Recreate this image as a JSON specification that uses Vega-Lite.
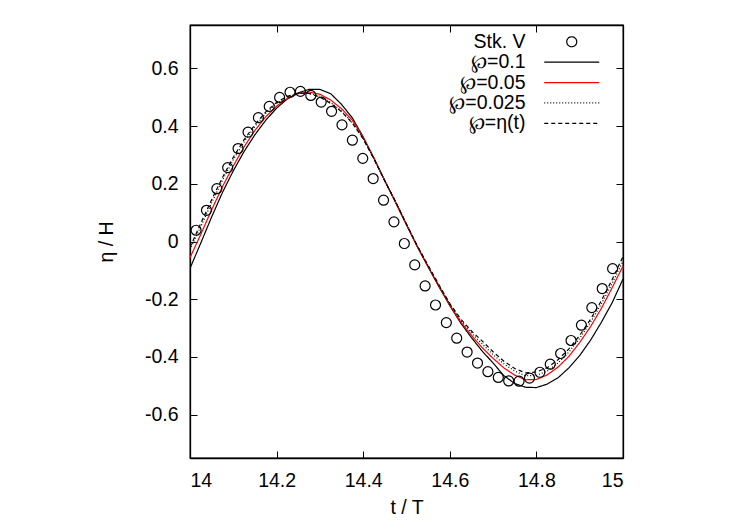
{
  "$schema": "https://vega.github.io/schema/vega-lite/v6.json",
  "width": 433,
  "height": 433,
  "autosize": {"type": "none"},
  "padding": {"left": 190, "top": 25, "right": 127, "bottom": 67},
  "background": "white",
  "config": {
    "font": "Liberation Sans",
    "view": {"stroke": "black", "strokeWidth": 1.3},
    "axis": {
      "grid": false,
      "domainColor": "black",
      "domainWidth": 1.3,
      "tickColor": "black",
      "tickWidth": 1,
      "tickSize": -7,
      "labelFont": "Liberation Sans",
      "labelFontSize": 19.5,
      "labelColor": "black",
      "titleFont": "Liberation Sans",
      "titleFontSize": 19.5,
      "titleFontWeight": "normal",
      "titleColor": "black"
    }
  },
  "datasets": {
    "obs": [
      {"series": "Stk. V", "t": 14.014, "eta": 0.039},
      {"series": "Stk. V", "t": 14.038, "eta": 0.108},
      {"series": "Stk. V", "t": 14.062, "eta": 0.183},
      {"series": "Stk. V", "t": 14.087, "eta": 0.256},
      {"series": "Stk. V", "t": 14.111, "eta": 0.322},
      {"series": "Stk. V", "t": 14.134, "eta": 0.379},
      {"series": "Stk. V", "t": 14.158, "eta": 0.429},
      {"series": "Stk. V", "t": 14.183, "eta": 0.468},
      {"series": "Stk. V", "t": 14.207, "eta": 0.499},
      {"series": "Stk. V", "t": 14.231, "eta": 0.517},
      {"series": "Stk. V", "t": 14.255, "eta": 0.520},
      {"series": "Stk. V", "t": 14.279, "eta": 0.506},
      {"series": "Stk. V", "t": 14.303, "eta": 0.483},
      {"series": "Stk. V", "t": 14.327, "eta": 0.451},
      {"series": "Stk. V", "t": 14.351, "eta": 0.404},
      {"series": "Stk. V", "t": 14.375, "eta": 0.351},
      {"series": "Stk. V", "t": 14.399, "eta": 0.288},
      {"series": "Stk. V", "t": 14.423, "eta": 0.218},
      {"series": "Stk. V", "t": 14.447, "eta": 0.143},
      {"series": "Stk. V", "t": 14.471, "eta": 0.068},
      {"series": "Stk. V", "t": 14.495, "eta": -0.007},
      {"series": "Stk. V", "t": 14.519, "eta": -0.081},
      {"series": "Stk. V", "t": 14.543, "eta": -0.154},
      {"series": "Stk. V", "t": 14.567, "eta": -0.220},
      {"series": "Stk. V", "t": 14.592, "eta": -0.281},
      {"series": "Stk. V", "t": 14.616, "eta": -0.335},
      {"series": "Stk. V", "t": 14.640, "eta": -0.383},
      {"series": "Stk. V", "t": 14.664, "eta": -0.421},
      {"series": "Stk. V", "t": 14.688, "eta": -0.451},
      {"series": "Stk. V", "t": 14.712, "eta": -0.471},
      {"series": "Stk. V", "t": 14.736, "eta": -0.483},
      {"series": "Stk. V", "t": 14.760, "eta": -0.484},
      {"series": "Stk. V", "t": 14.784, "eta": -0.473},
      {"series": "Stk. V", "t": 14.808, "eta": -0.453},
      {"series": "Stk. V", "t": 14.832, "eta": -0.425},
      {"series": "Stk. V", "t": 14.856, "eta": -0.388},
      {"series": "Stk. V", "t": 14.880, "eta": -0.343},
      {"series": "Stk. V", "t": 14.904, "eta": -0.290},
      {"series": "Stk. V", "t": 14.928, "eta": -0.229},
      {"series": "Stk. V", "t": 14.952, "eta": -0.163},
      {"series": "Stk. V", "t": 14.976, "eta": -0.094}
    ],
    "sim": [
      {"series": "℘=0.1", "t": 14.000, "eta": -0.093},
      {"series": "℘=0.1", "t": 14.025, "eta": -0.005},
      {"series": "℘=0.1", "t": 14.050, "eta": 0.085},
      {"series": "℘=0.1", "t": 14.075, "eta": 0.170},
      {"series": "℘=0.1", "t": 14.100, "eta": 0.245},
      {"series": "℘=0.1", "t": 14.125, "eta": 0.312},
      {"series": "℘=0.1", "t": 14.150, "eta": 0.370},
      {"series": "℘=0.1", "t": 14.175, "eta": 0.420},
      {"series": "℘=0.1", "t": 14.200, "eta": 0.462},
      {"series": "℘=0.1", "t": 14.225, "eta": 0.494},
      {"series": "℘=0.1", "t": 14.250, "eta": 0.515},
      {"series": "℘=0.1", "t": 14.275, "eta": 0.527},
      {"series": "℘=0.1", "t": 14.300, "eta": 0.527},
      {"series": "℘=0.1", "t": 14.325, "eta": 0.512},
      {"series": "℘=0.1", "t": 14.350, "eta": 0.475},
      {"series": "℘=0.1", "t": 14.375, "eta": 0.428},
      {"series": "℘=0.1", "t": 14.400, "eta": 0.362},
      {"series": "℘=0.1", "t": 14.425, "eta": 0.288},
      {"series": "℘=0.1", "t": 14.450, "eta": 0.210},
      {"series": "℘=0.1", "t": 14.475, "eta": 0.135},
      {"series": "℘=0.1", "t": 14.500, "eta": 0.058},
      {"series": "℘=0.1", "t": 14.525, "eta": -0.018},
      {"series": "℘=0.1", "t": 14.550, "eta": -0.088},
      {"series": "℘=0.1", "t": 14.575, "eta": -0.157},
      {"series": "℘=0.1", "t": 14.600, "eta": -0.222},
      {"series": "℘=0.1", "t": 14.625, "eta": -0.282},
      {"series": "℘=0.1", "t": 14.650, "eta": -0.333},
      {"series": "℘=0.1", "t": 14.675, "eta": -0.380},
      {"series": "℘=0.1", "t": 14.700, "eta": -0.421},
      {"series": "℘=0.1", "t": 14.725, "eta": -0.465},
      {"series": "℘=0.1", "t": 14.750, "eta": -0.492},
      {"series": "℘=0.1", "t": 14.775, "eta": -0.505},
      {"series": "℘=0.1", "t": 14.800, "eta": -0.506},
      {"series": "℘=0.1", "t": 14.825, "eta": -0.494},
      {"series": "℘=0.1", "t": 14.850, "eta": -0.472},
      {"series": "℘=0.1", "t": 14.875, "eta": -0.438},
      {"series": "℘=0.1", "t": 14.900, "eta": -0.395},
      {"series": "℘=0.1", "t": 14.925, "eta": -0.342},
      {"series": "℘=0.1", "t": 14.950, "eta": -0.280},
      {"series": "℘=0.1", "t": 14.975, "eta": -0.212},
      {"series": "℘=0.1", "t": 15.000, "eta": -0.130},

      {"series": "℘=0.05", "t": 14.000, "eta": -0.056},
      {"series": "℘=0.05", "t": 14.025, "eta": 0.025},
      {"series": "℘=0.05", "t": 14.050, "eta": 0.110},
      {"series": "℘=0.05", "t": 14.075, "eta": 0.190},
      {"series": "℘=0.05", "t": 14.100, "eta": 0.262},
      {"series": "℘=0.05", "t": 14.125, "eta": 0.328},
      {"series": "℘=0.05", "t": 14.150, "eta": 0.385},
      {"series": "℘=0.05", "t": 14.175, "eta": 0.432},
      {"series": "℘=0.05", "t": 14.200, "eta": 0.469},
      {"series": "℘=0.05", "t": 14.225, "eta": 0.496},
      {"series": "℘=0.05", "t": 14.250, "eta": 0.512},
      {"series": "℘=0.05", "t": 14.275, "eta": 0.518},
      {"series": "℘=0.05", "t": 14.300, "eta": 0.510},
      {"series": "℘=0.05", "t": 14.325, "eta": 0.490},
      {"series": "℘=0.05", "t": 14.350, "eta": 0.460},
      {"series": "℘=0.05", "t": 14.375, "eta": 0.420},
      {"series": "℘=0.05", "t": 14.400, "eta": 0.360},
      {"series": "℘=0.05", "t": 14.425, "eta": 0.288},
      {"series": "℘=0.05", "t": 14.450, "eta": 0.210},
      {"series": "℘=0.05", "t": 14.475, "eta": 0.135},
      {"series": "℘=0.05", "t": 14.500, "eta": 0.058},
      {"series": "℘=0.05", "t": 14.525, "eta": -0.018},
      {"series": "℘=0.05", "t": 14.550, "eta": -0.088},
      {"series": "℘=0.05", "t": 14.575, "eta": -0.155},
      {"series": "℘=0.05", "t": 14.600, "eta": -0.220},
      {"series": "℘=0.05", "t": 14.625, "eta": -0.278},
      {"series": "℘=0.05", "t": 14.650, "eta": -0.325},
      {"series": "℘=0.05", "t": 14.675, "eta": -0.368},
      {"series": "℘=0.05", "t": 14.700, "eta": -0.405},
      {"series": "℘=0.05", "t": 14.725, "eta": -0.438},
      {"series": "℘=0.05", "t": 14.750, "eta": -0.463},
      {"series": "℘=0.05", "t": 14.775, "eta": -0.479},
      {"series": "℘=0.05", "t": 14.800, "eta": -0.478},
      {"series": "℘=0.05", "t": 14.825, "eta": -0.462},
      {"series": "℘=0.05", "t": 14.850, "eta": -0.435},
      {"series": "℘=0.05", "t": 14.875, "eta": -0.398},
      {"series": "℘=0.05", "t": 14.900, "eta": -0.350},
      {"series": "℘=0.05", "t": 14.925, "eta": -0.295},
      {"series": "℘=0.05", "t": 14.950, "eta": -0.232},
      {"series": "℘=0.05", "t": 14.975, "eta": -0.160},
      {"series": "℘=0.05", "t": 15.000, "eta": -0.085},

      {"series": "℘=0.025", "t": 14.000, "eta": -0.028},
      {"series": "℘=0.025", "t": 14.025, "eta": 0.052},
      {"series": "℘=0.025", "t": 14.050, "eta": 0.134},
      {"series": "℘=0.025", "t": 14.075, "eta": 0.212},
      {"series": "℘=0.025", "t": 14.100, "eta": 0.283},
      {"series": "℘=0.025", "t": 14.125, "eta": 0.345},
      {"series": "℘=0.025", "t": 14.150, "eta": 0.399},
      {"series": "℘=0.025", "t": 14.175, "eta": 0.444},
      {"series": "℘=0.025", "t": 14.200, "eta": 0.478},
      {"series": "℘=0.025", "t": 14.225, "eta": 0.501},
      {"series": "℘=0.025", "t": 14.250, "eta": 0.513},
      {"series": "℘=0.025", "t": 14.275, "eta": 0.514},
      {"series": "℘=0.025", "t": 14.300, "eta": 0.503},
      {"series": "℘=0.025", "t": 14.325, "eta": 0.482},
      {"series": "℘=0.025", "t": 14.350, "eta": 0.452},
      {"series": "℘=0.025", "t": 14.375, "eta": 0.412},
      {"series": "℘=0.025", "t": 14.400, "eta": 0.357},
      {"series": "℘=0.025", "t": 14.425, "eta": 0.286},
      {"series": "℘=0.025", "t": 14.450, "eta": 0.210},
      {"series": "℘=0.025", "t": 14.475, "eta": 0.136},
      {"series": "℘=0.025", "t": 14.500, "eta": 0.059},
      {"series": "℘=0.025", "t": 14.525, "eta": -0.016},
      {"series": "℘=0.025", "t": 14.550, "eta": -0.085},
      {"series": "℘=0.025", "t": 14.575, "eta": -0.152},
      {"series": "℘=0.025", "t": 14.600, "eta": -0.217},
      {"series": "℘=0.025", "t": 14.625, "eta": -0.273},
      {"series": "℘=0.025", "t": 14.650, "eta": -0.317},
      {"series": "℘=0.025", "t": 14.675, "eta": -0.355},
      {"series": "℘=0.025", "t": 14.700, "eta": -0.392},
      {"series": "℘=0.025", "t": 14.725, "eta": -0.424},
      {"series": "℘=0.025", "t": 14.750, "eta": -0.449},
      {"series": "℘=0.025", "t": 14.775, "eta": -0.465},
      {"series": "℘=0.025", "t": 14.800, "eta": -0.464},
      {"series": "℘=0.025", "t": 14.825, "eta": -0.449},
      {"series": "℘=0.025", "t": 14.850, "eta": -0.421},
      {"series": "℘=0.025", "t": 14.875, "eta": -0.383},
      {"series": "℘=0.025", "t": 14.900, "eta": -0.335},
      {"series": "℘=0.025", "t": 14.925, "eta": -0.280},
      {"series": "℘=0.025", "t": 14.950, "eta": -0.216},
      {"series": "℘=0.025", "t": 14.975, "eta": -0.145},
      {"series": "℘=0.025", "t": 15.000, "eta": -0.068},

      {"series": "℘=η(t)", "t": 14.000, "eta": -0.020},
      {"series": "℘=η(t)", "t": 14.025, "eta": 0.063},
      {"series": "℘=η(t)", "t": 14.050, "eta": 0.145},
      {"series": "℘=η(t)", "t": 14.075, "eta": 0.222},
      {"series": "℘=η(t)", "t": 14.100, "eta": 0.292},
      {"series": "℘=η(t)", "t": 14.125, "eta": 0.353},
      {"series": "℘=η(t)", "t": 14.150, "eta": 0.405},
      {"series": "℘=η(t)", "t": 14.175, "eta": 0.449},
      {"series": "℘=η(t)", "t": 14.200, "eta": 0.482},
      {"series": "℘=η(t)", "t": 14.225, "eta": 0.503},
      {"series": "℘=η(t)", "t": 14.250, "eta": 0.514},
      {"series": "℘=η(t)", "t": 14.275, "eta": 0.513},
      {"series": "℘=η(t)", "t": 14.300, "eta": 0.500},
      {"series": "℘=η(t)", "t": 14.325, "eta": 0.478},
      {"series": "℘=η(t)", "t": 14.350, "eta": 0.450},
      {"series": "℘=η(t)", "t": 14.375, "eta": 0.410},
      {"series": "℘=η(t)", "t": 14.400, "eta": 0.355},
      {"series": "℘=η(t)", "t": 14.425, "eta": 0.285},
      {"series": "℘=η(t)", "t": 14.450, "eta": 0.210},
      {"series": "℘=η(t)", "t": 14.475, "eta": 0.138},
      {"series": "℘=η(t)", "t": 14.500, "eta": 0.060},
      {"series": "℘=η(t)", "t": 14.525, "eta": -0.015},
      {"series": "℘=η(t)", "t": 14.550, "eta": -0.083},
      {"series": "℘=η(t)", "t": 14.575, "eta": -0.150},
      {"series": "℘=η(t)", "t": 14.600, "eta": -0.215},
      {"series": "℘=η(t)", "t": 14.625, "eta": -0.268},
      {"series": "℘=η(t)", "t": 14.650, "eta": -0.310},
      {"series": "℘=η(t)", "t": 14.675, "eta": -0.345},
      {"series": "℘=η(t)", "t": 14.700, "eta": -0.382},
      {"series": "℘=η(t)", "t": 14.725, "eta": -0.415},
      {"series": "℘=η(t)", "t": 14.750, "eta": -0.440},
      {"series": "℘=η(t)", "t": 14.775, "eta": -0.455},
      {"series": "℘=η(t)", "t": 14.800, "eta": -0.452},
      {"series": "℘=η(t)", "t": 14.825, "eta": -0.437},
      {"series": "℘=η(t)", "t": 14.850, "eta": -0.410},
      {"series": "℘=η(t)", "t": 14.875, "eta": -0.372},
      {"series": "℘=η(t)", "t": 14.900, "eta": -0.325},
      {"series": "℘=η(t)", "t": 14.925, "eta": -0.270},
      {"series": "℘=η(t)", "t": 14.950, "eta": -0.205},
      {"series": "℘=η(t)", "t": 14.975, "eta": -0.132},
      {"series": "℘=η(t)", "t": 15.000, "eta": -0.052}
    ]
  },
  "resolve": {"axis": {"x": "independent", "y": "independent"}},
  "layer": [
    {
      "data": {"name": "sim"},
      "mark": {"type": "line", "strokeWidth": 1.2, "clip": true},
      "encoding": {
        "x": {
          "field": "t", "type": "quantitative",
          "scale": {"domain": [14, 15], "nice": false, "zero": false},
          "axis": {"orient": "top", "labels": false, "title": null, "values": [14, 14.2, 14.4, 14.6, 14.8, 15]}
        },
        "y": {
          "field": "eta", "type": "quantitative",
          "scale": {"domain": [-0.75, 0.75], "nice": false, "zero": false},
          "axis": {"orient": "right", "labels": false, "title": null, "values": [-0.6, -0.4, -0.2, 0, 0.2, 0.4, 0.6]}
        },
        "color": {
          "field": "series", "type": "nominal",
          "scale": {
            "domain": ["Stk. V", "℘=0.1", "℘=0.05", "℘=0.025", "℘=η(t)"],
            "range": ["black", "black", "red", "black", "black"]
          },
          "legend": {
            "title": null,
            "orient": "none",
            "legendX": 372,
            "legendY": 7,
            "padding": 0,
            "symbolSize": 121,
            "symbolStrokeWidth": 1.2,
            "labelAlign": "right",
            "labelOffset": -56,
            "labelFont": "Liberation Sans",
            "labelFontSize": 19.5,
            "labelColor": "black",
            "rowPadding": -0.6,
            "encode": {
              "symbols": {
                "update": {
                  "shape": {"signal": "datum.value === 'Stk. V' ? 'circle' : 'M-5,0H5'"},
                  "size": {"signal": "datum.value === 'Stk. V' ? 100 : 121"},
                  "stroke": {"signal": "datum.value === '℘=0.05' ? 'red' : 'black'"},
                  "fill": {"value": "transparent"},
                  "strokeWidth": {"value": 1.2},
                  "strokeDash": {"signal": "datum.value === '℘=0.025' ? [1, 2] : datum.value === '℘=η(t)' ? [4, 3] : [1, 0]"}
                }
              }
            }
          }
        },
        "strokeDash": {
          "field": "series", "type": "nominal",
          "scale": {
            "domain": ["℘=0.1", "℘=0.05", "℘=0.025", "℘=η(t)"],
            "range": [[1, 0], [1, 0], [1, 2], [4, 3]]
          },
          "legend": null
        }
      }
    },
    {
      "data": {"name": "obs"},
      "mark": {"type": "point", "shape": "circle", "filled": false, "size": 100, "strokeWidth": 1.2, "opacity": 1},
      "encoding": {
        "x": {
          "field": "t", "type": "quantitative",
          "axis": {
            "orient": "bottom", "title": "t / T",
            "values": [14, 14.2, 14.4, 14.6, 14.8, 15],
            "labelExpr": "replace(format(datum.value, '.1~f'), '−', '-')",
            "labelPadding": 20,
            "titlePadding": 9
          }
        },
        "y": {
          "field": "eta", "type": "quantitative",
          "axis": {
            "orient": "left", "title": "η / H",
            "values": [-0.6, -0.4, -0.2, 0, 0.2, 0.4, 0.6],
            "labelExpr": "replace(format(datum.value, '.1~f'), '−', '-')",
            "labelPadding": 19,
            "titlePadding": 28
          }
        },
        "color": {"field": "series", "type": "nominal"}
      }
    }
  ]
}
